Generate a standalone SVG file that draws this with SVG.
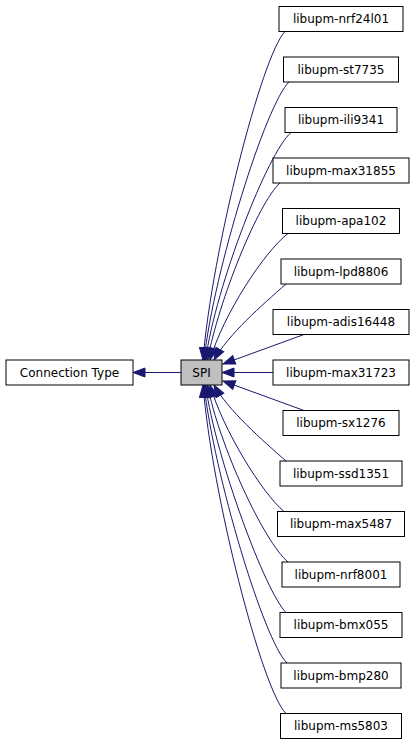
<svg xmlns="http://www.w3.org/2000/svg" width="416" height="747" viewBox="0 0 416 747">
<style>
.n rect{fill:#fff;stroke:#000;stroke-width:1}
#spi rect{fill:#bfbfbf}
.n text{font-family:"DejaVu Sans",sans-serif;font-size:12px;text-anchor:middle;fill:#000}
.e path{fill:none;stroke:#191970;stroke-width:1;marker-end:url(#ah)}
</style>
<defs>
<marker id="ah" markerUnits="userSpaceOnUse" markerWidth="12" markerHeight="10" refX="12" refY="4.5" orient="auto" overflow="visible">
<path d="M0,0 L12,4.5 L0,9 z" fill="#191970" stroke="#191970" stroke-width="1"/>
</marker>
</defs>
<rect width="416" height="747" fill="#fff"/>
<g id="edges" class="e">
<path d="M181,372.5 L133,372.5"/>
<path d="M285,31.5 C262,55 212,250 203,360"/>
<path d="M289,82 C266,104 214,270 204,360"/>
<path d="M291,132.5 C268,152 216,285 205.5,360"/>
<path d="M280,183 C258,203 219,300 207.5,360"/>
<path d="M288,233.5 C264,252 223,315 210,360"/>
<path d="M286,284 C262,305 228,335 214,360"/>
<path d="M304,334.5 L223,364"/>
<path d="M273,372.5 L222,372.5"/>
<path d="M304,410.5 L223,381"/>
<path d="M286,461 C262,440 228,410 214,385"/>
<path d="M284,511.5 C262,493 223,430 210,385"/>
<path d="M288,562 C264,542 219,445 207.5,385"/>
<path d="M286,612.5 C266,593 216,460 205.5,385"/>
<path d="M287,663 C264,641 214,475 204,385"/>
<path d="M286,713.5 C262,690 212,495 203,385"/>
</g>
<g id="conntype" class="n"><rect x="6" y="360" width="127" height="25"/><text x="69.5" y="376.8">Connection Type</text></g>
<g id="spi" class="n"><rect x="181" y="360" width="41" height="25"/><text x="201.5" y="376.8">SPI</text></g>
<g id="nrf24l01" class="n"><rect x="279" y="6.5" width="124" height="25"/><text x="341" y="23.3">libupm-nrf24l01</text></g>
<g id="st7735" class="n"><rect x="283.5" y="57" width="115" height="25"/><text x="341" y="73.8">libupm-st7735</text></g>
<g id="ili9341" class="n"><rect x="285" y="107.5" width="112" height="25"/><text x="341" y="124.3">libupm-ili9341</text></g>
<g id="max31855" class="n"><rect x="273" y="158" width="136" height="25"/><text x="341" y="174.8">libupm-max31855</text></g>
<g id="apa102" class="n"><rect x="282.5" y="208.5" width="117" height="25"/><text x="341" y="225.3">libupm-apa102</text></g>
<g id="lpd8806" class="n"><rect x="281" y="259" width="120" height="25"/><text x="341" y="275.8">libupm-lpd8806</text></g>
<g id="adis16448" class="n"><rect x="273" y="309.5" width="136" height="25"/><text x="341" y="326.3">libupm-adis16448</text></g>
<g id="max31723" class="n"><rect x="273" y="360" width="136" height="25"/><text x="341" y="376.8">libupm-max31723</text></g>
<g id="sx1276" class="n"><rect x="283" y="410.5" width="116" height="25"/><text x="341" y="427.3">libupm-sx1276</text></g>
<g id="ssd1351" class="n"><rect x="280" y="461" width="122" height="25"/><text x="341" y="477.8">libupm-ssd1351</text></g>
<g id="max5487" class="n"><rect x="277.5" y="511.5" width="127" height="25"/><text x="341" y="528.3">libupm-max5487</text></g>
<g id="nrf8001" class="n"><rect x="282" y="562" width="118" height="25"/><text x="341" y="578.8">libupm-nrf8001</text></g>
<g id="bmx055" class="n"><rect x="280" y="612.5" width="122" height="25"/><text x="341" y="629.3">libupm-bmx055</text></g>
<g id="bmp280" class="n"><rect x="281" y="663" width="120" height="25"/><text x="341" y="679.8">libupm-bmp280</text></g>
<g id="ms5803" class="n"><rect x="280.5" y="713.5" width="121" height="25"/><text x="341" y="730.3">libupm-ms5803</text></g>
</svg>
